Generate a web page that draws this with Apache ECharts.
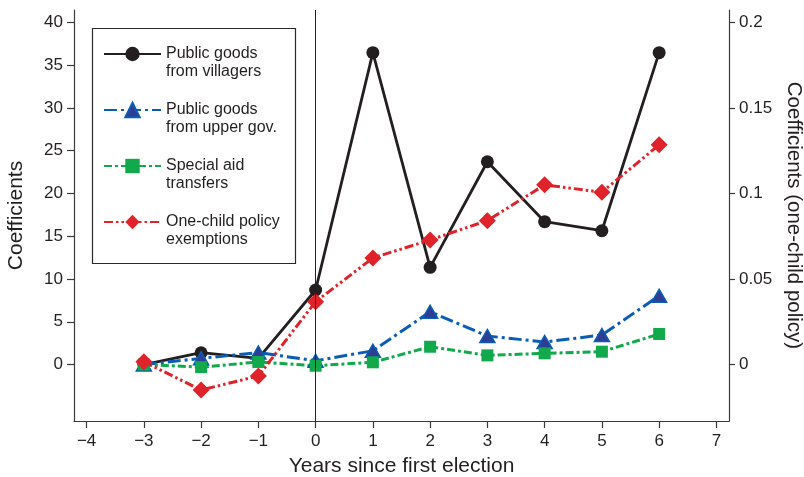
<!DOCTYPE html>
<html><head><meta charset="utf-8">
<script src="https://cdn.jsdelivr.net/npm/echarts@6/dist/echarts.min.js"></script>
<style>html,body{margin:0;padding:0;background:#fff}#c{width:804px;height:477px}</style>
</head><body><div id="c"></div>
<script>
const years = [-3, -2, -1, 0, 1, 2, 3, 4, 5, 6];
const xTicks = [-4, -3, -2, -1, 0, 1, 2, 3, 4, 5, 6, 7];
const yLeftTicks = [0, 5, 10, 15, 20, 25, 30, 35, 40];
const yRightTicks = [0, 0.05, 0.1, 0.15, 0.2];
const villagers = [0, 1.38, 0.72, 8.71, 36.45, 11.36, 23.7, 16.7, 15.64, 36.45];
const upperGov = [0, 0.72, 1.4, 0.44, 1.61, 6.17, 3.33, 2.63, 3.45, 8.04];
const specialAid = [0, -0.3, 0.3, -0.14, 0.26, 2.08, 1.07, 1.31, 1.5, 3.57];
const oneChild = [0.0016, -0.0149, -0.0067, 0.0367, 0.0623, 0.0728, 0.0841, 0.105, 0.1007, 0.1284];
const seriesNames = ['Public goods from villagers', 'Public goods from upper gov.', 'Special aid transfers', 'One-child policy exemptions'];
const legendLabels = ['Public goods\nfrom villagers', 'Public goods\nfrom upper gov.', 'Special aid\ntransfers', 'One-child policy\nexemptions'];

const FONT = '"Liberation Sans", Arial, Helvetica, sans-serif';
const INK = '#231f20';
const pair = (vals) => years.map((y, i) => [y, vals[i]]);
const minus = (v) => String(v).replace('-', '\u2212');

const chart = echarts.init(document.getElementById('c'), null, {renderer: 'canvas'});
chart.setOption({
  animation: false,
  backgroundColor: '#fff',
  grid: {left: 74, right: 75, top: 10, bottom: 56, containLabel: false, outerBoundsMode: 'none'},
  xAxis: {
    type: 'value', min: -4.22, max: 7.22,
    name: 'Years since first election', nameLocation: 'middle', nameGap: 35,
    nameTextStyle: {fontFamily: FONT, fontSize: 21, color: INK},
    axisLine: {show: true, onZero: false, lineStyle: {color: '#3a3a3a', width: 1.2}},
    axisTick: {show: true, length: 7, customValues: xTicks, lineStyle: {color: '#3a3a3a', width: 1.2}},
    axisLabel: {customValues: xTicks, margin: 12, fontFamily: FONT, fontSize: 17, color: INK, formatter: minus},
    splitLine: {show: false}
  },
  yAxis: [{
    type: 'value', min: -6.6, max: 41.44, position: 'left',
    name: 'Coefficients', nameLocation: 'middle', nameGap: 47,
    nameTextStyle: {fontFamily: FONT, fontSize: 21, color: INK},
    axisLine: {show: true, onZero: false, lineStyle: {color: '#3a3a3a', width: 1.2}},
    axisTick: {show: true, length: 7, customValues: yLeftTicks, lineStyle: {color: '#3a3a3a', width: 1.2}},
    axisLabel: {customValues: yLeftTicks, margin: 11, fontFamily: FONT, fontSize: 17, color: INK},
    splitLine: {show: false}
  }, {
    type: 'value', min: -0.033, max: 0.2072, position: 'right',
    name: 'Coefficients (one-child policy)', nameLocation: 'middle', nameGap: 52, nameRotate: -90,
    nameTextStyle: {fontFamily: FONT, fontSize: 20.5, color: INK},
    axisLine: {show: true, onZero: false, lineStyle: {color: '#3a3a3a', width: 1.2}},
    axisTick: {show: true, length: 6, customValues: yRightTicks, lineStyle: {color: '#3a3a3a', width: 1.2}},
    axisLabel: {customValues: yRightTicks, margin: 10, fontFamily: FONT, fontSize: 17, color: INK},
    splitLine: {show: false}
  }],
  legend: {
    orient: 'vertical', left: 103, top: 27, padding: 0,
    itemWidth: 57, itemHeight: 18, itemGap: 2,
    data: seriesNames,
    formatter: (name) => ' \n' + legendLabels[seriesNames.indexOf(name)],
    textStyle: {fontFamily: FONT, fontSize: 16, color: INK, lineHeight: 18},
    selectedMode: false
  },
  graphic: [{
    type: 'rect', silent: true, z: 100,
    shape: {x: 92.5, y: 28.5, width: 203, height: 235},
    style: {fill: 'none', stroke: '#2a2a2a', lineWidth: 1.2}
  }],
  series: [{
    name: seriesNames[0], type: 'line', data: pair(villagers),
    symbol: 'circle', symbolSize: 13,
    lineStyle: {color: INK, width: 2.8},
    itemStyle: {color: INK},
    markLine: {
      silent: true, symbol: 'none', label: {show: false},
      lineStyle: {color: '#222', width: 1, type: 'solid'},
      data: [{xAxis: 0}]
    }
  }, {
    name: seriesNames[1], type: 'line', data: pair(upperGov),
    symbol: 'triangle', symbolSize: [15, 13],
    lineStyle: {color: '#0a5cb5', width: 3, type: [13, 4, 3, 4]},
    itemStyle: {color: '#2d3e94', borderColor: '#0a5cb5', borderWidth: 1.5}
  }, {
    name: seriesNames[2], type: 'line', data: pair(specialAid),
    symbol: 'rect', symbolSize: 12,
    lineStyle: {color: '#12a84c', width: 3, type: [8, 3, 3, 3]},
    itemStyle: {color: '#12a84c'}
  }, {
    name: seriesNames[3], type: 'line', yAxisIndex: 1, data: pair(oneChild),
    symbol: 'diamond', symbolSize: 17,
    lineStyle: {color: '#e0222b', width: 3, type: [9, 3, 2.5, 3, 2.5, 3]},
    itemStyle: {color: '#e0222b'}
  }]
});
</script></body></html>
